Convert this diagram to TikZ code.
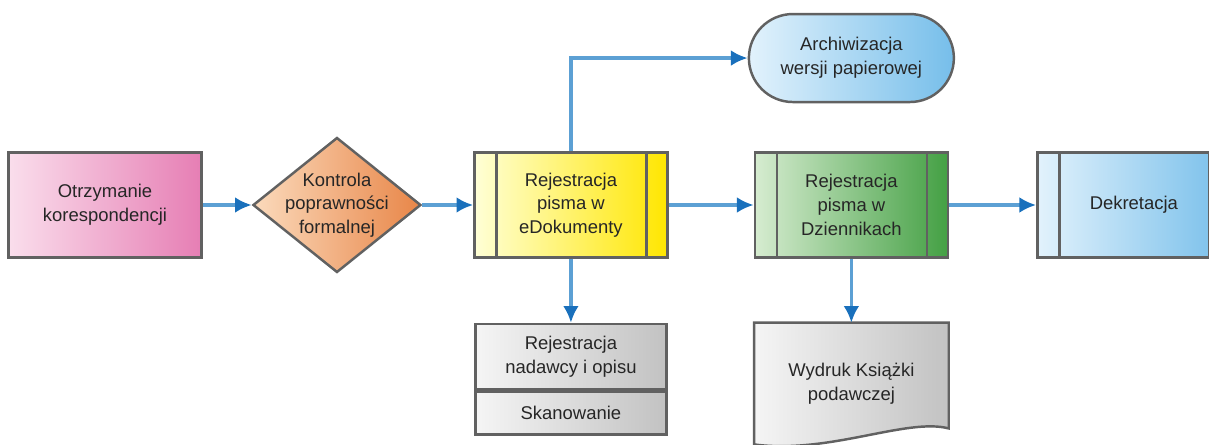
\documentclass[tikz,border=0pt]{standalone}
\usepackage{fontspec}
\setmainfont{Liberation Sans}
\usepackage{tikz}
\usetikzlibrary{arrows.meta,positioning,shapes.geometric,backgrounds}

\definecolor{flowline}{RGB}{92,160,212}
\definecolor{flowtip}{RGB}{25,112,188}
\definecolor{pinkL}{RGB}{250,222,236}
\definecolor{pinkR}{RGB}{230,126,180}
\definecolor{orangeL}{RGB}{251,218,188}
\definecolor{orangeR}{RGB}{232,134,72}
\definecolor{yellowL}{RGB}{255,255,214}
\definecolor{yellowR}{RGB}{255,230,0}
\definecolor{greenL}{RGB}{214,236,208}
\definecolor{greenR}{RGB}{68,160,68}
\definecolor{blueL}{RGB}{226,242,252}
\definecolor{blueR}{RGB}{118,190,234}
\definecolor{grayL}{RGB}{245,245,245}
\definecolor{grayR}{RGB}{194,194,194}

\begin{document}
\begin{tikzpicture}[
  node distance=1cm and 1cm,
  txt/.style={align=center, font=\fontsize{10.5}{13.5}\selectfont, text=black!85},
  box/.style={txt, draw=black!62, line width=1.4pt, minimum width=3.86cm,
    minimum height=2.1cm, inner sep=2pt},
  sidebars/.style={path picture={
    \draw[draw=black!62, line width=1.4pt]
      ([xshift=0.44cm]path picture bounding box.north west) -- ([xshift=0.44cm]path picture bounding box.south west)
      ([xshift=-0.42cm]path picture bounding box.north east) -- ([xshift=-0.42cm]path picture bounding box.south east);}},
  startbox/.style={box, left color=pinkL, right color=pinkR},
  decision/.style={diamond, draw=black!62, line width=1.4pt, minimum width=3.36cm,
    minimum height=2.7cm, inner sep=0pt, left color=orangeL, right color=orangeR},
  edocbox/.style={box, sidebars, left color=yellowL, right color=yellowR},
  journalbox/.style={box, sidebars, left color=greenL, right color=greenR},
  decreebox/.style={box, sidebars, left color=blueL, right color=blueR},
  archbox/.style={box, rounded corners=0.88cm, minimum width=4.1cm, minimum height=1.76cm,
    left color=blueL, right color=blueR},
  subbox/.style={box, minimum width=3.82cm, left color=grayL, right color=grayR},
  docbox/.style={txt, minimum width=3.88cm, minimum height=2.42cm},
  arr/.style={-{Latex[length=9.5pt,width=9pt,color=flowtip,fill=flowtip]}, line width=1.9pt, color=flowline},
]
\useasboundingbox (0,0) rectangle (24.18,-8.9);

% Main line
\node[startbox] (recv) at (2.10,-4.10) {Otrzymanie\\korespondencji};
\node[decision, right=0.98cm of recv,
  label={[txt]center:{Kontrola\\poprawności\\formalnej}}] (check) {};
\node[edocbox, right=1.02cm of check] (edok) {Rejestracja\\pisma w\\eDokumenty};
\node[journalbox, right=1.7cm of edok] (dzien) {Rejestracja\\pisma w\\Dziennikach};
\node[decreebox, right=1.74cm of dzien] (dekr) {Dekretacja};

% Side branches
\node[archbox, above=0.96cm of dzien] (arch) {Archiwizacja\\wersji papierowej};
\node[subbox, minimum height=1.3cm, below=1.28cm of edok] (regnad) {Rejestracja\\nadawcy i opisu};
\node[subbox, minimum height=0.86cm, below=0cm of regnad] (skan) {Skanowanie};
\node[docbox, below=1.28cm of dzien] (druk) {Wydruk Książki\\podawczej};

\begin{pgfonlayer}{background}
\draw[draw=black!62, line width=1.4pt, left color=grayL, right color=grayR]
  (druk.north west) -- (druk.north east) -- ([yshift=0.32cm]druk.south east)
  .. controls ([xshift=-0.84cm,yshift=0.54cm]druk.south east)
  and ([xshift=1.5cm,yshift=-0.2cm]druk.south west) .. (druk.south west) -- cycle;
\end{pgfonlayer}

% Arrows
\draw[arr] (recv) -- (check);
\draw[arr] (check) -- (edok);
\draw[arr] (edok) -- (dzien);
\draw[arr] (dzien) -- (dekr);
\draw[arr] (edok.north) |- (arch.west);
\draw[arr] (edok) -- (regnad);
\draw[arr] (dzien) -- (druk);
\end{tikzpicture}
\end{document}
